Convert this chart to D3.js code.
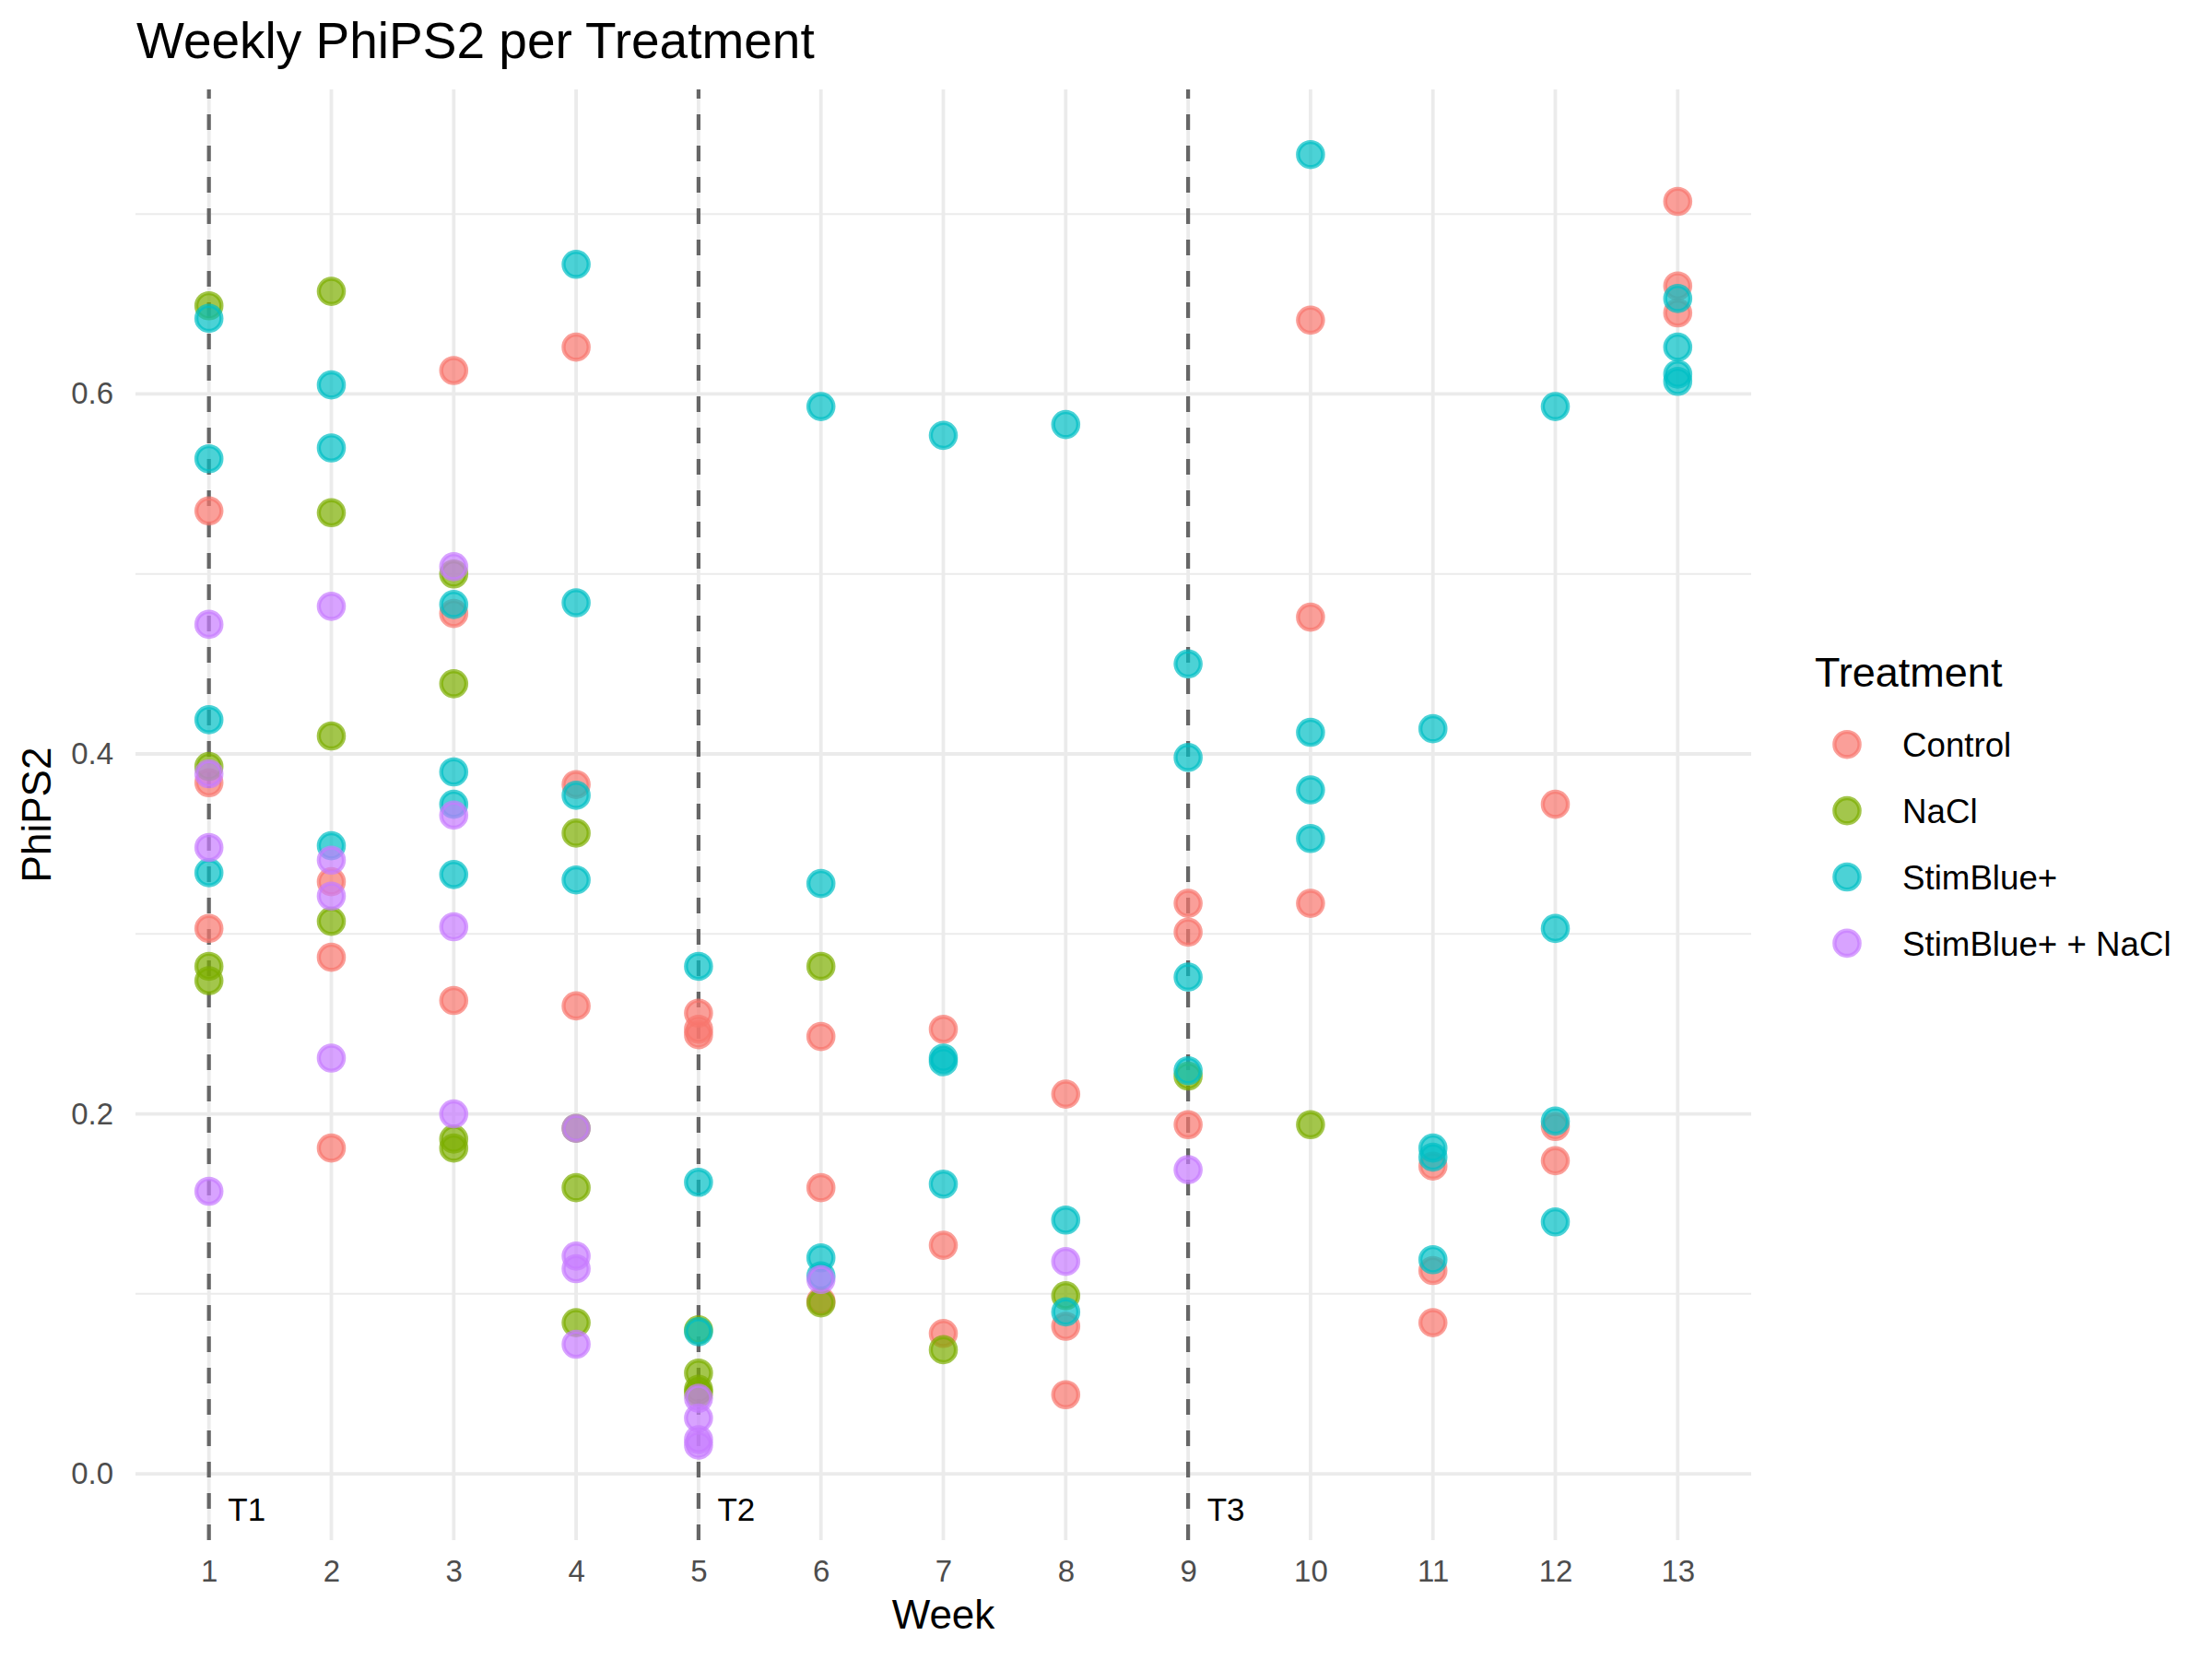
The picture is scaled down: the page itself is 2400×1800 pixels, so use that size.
<!DOCTYPE html>
<html>
<head>
<meta charset="utf-8">
<script src="https://cdn.jsdelivr.net/npm/d3@7"></script>
<style>
body{margin:0;background:#fff}
svg{display:block}
text{font-family:"Liberation Sans",Arial,Helvetica,sans-serif}
</style>
</head>
<body>
<svg id="chart" width="2400" height="1800"></svg>
<script>
// ---- data (Week, PhiPS2) ----
const treatments = ["Control", "NaCl", "StimBlue+", "StimBlue+ + NaCl"];
const colors = ["#F8766D", "#7CAE00", "#00BFC4", "#C77CFF"];

const control = [
  [1,0.535],[1,0.384],[1,0.303],
  [2,0.329],[2,0.287],[2,0.181],
  [3,0.613],[3,0.478],[3,0.263],
  [4,0.626],[4,0.383],[4,0.260],
  [5,0.256],[5,0.247],[5,0.244],
  [6,0.243],[6,0.159],[6,0.096],
  [7,0.247],[7,0.127],[7,0.078],
  [8,0.211],[8,0.082],[8,0.044],
  [9,0.317],[9,0.301],[9,0.194],
  [10,0.641],[10,0.476],[10,0.317],
  [11,0.171],[11,0.113],[11,0.084],
  [12,0.372],[12,0.193],[12,0.174],
  [13,0.707],[13,0.660],[13,0.645]
];
const nacl = [
  [1,0.649],[1,0.393],[1,0.282],[1,0.274],
  [2,0.657],[2,0.534],[2,0.410],[2,0.307],
  [3,0.500],[3,0.439],[3,0.186],[3,0.181],
  [4,0.356],[4,0.192],[4,0.159],[4,0.084],
  [5,0.080],[5,0.056],[5,0.047],[5,0.045],
  [6,0.282],[6,0.095],
  [7,0.069],
  [8,0.099],
  [9,0.221],
  [10,0.194]
];
const stimBlue = [
  [1,0.642],[1,0.564],[1,0.419],[1,0.334],
  [2,0.605],[2,0.570],[2,0.349],
  [3,0.483],[3,0.390],[3,0.372],[3,0.333],
  [4,0.672],[4,0.484],[4,0.377],[4,0.330],
  [5,0.282],[5,0.162],[5,0.079],
  [6,0.593],[6,0.328],[6,0.120],[6,0.110],
  [7,0.577],[7,0.231],[7,0.229],[7,0.161],
  [8,0.583],[8,0.141],[8,0.090],
  [9,0.450],[9,0.398],[9,0.276],[9,0.224],
  [10,0.733],[10,0.412],[10,0.380],[10,0.353],
  [11,0.414],[11,0.181],[11,0.176],[11,0.119],
  [12,0.593],[12,0.303],[12,0.196],[12,0.140],
  [13,0.653],[13,0.626],[13,0.611],[13,0.607]
];
const stimBlueNacl = [
  [1,0.472],[1,0.389],[1,0.348],[1,0.157],
  [2,0.482],[2,0.341],[2,0.321],[2,0.231],
  [3,0.504],[3,0.366],[3,0.304],[3,0.200],
  [4,0.192],[4,0.121],[4,0.114],[4,0.072],
  [5,0.042],[5,0.031],[5,0.019],[5,0.016],
  [6,0.108],
  [8,0.118],
  [9,0.169]
];
const seriesData = [control, nacl, stimBlue, stimBlueNacl];

const weekTicks = [1,2,3,4,5,6,7,8,9,10,11,12,13];
const yMajor = [0, 0.2, 0.4, 0.6];
const yMinor = [0.1, 0.3, 0.5, 0.7];
const treatWeeks = [1, 5, 9];
const treatLabels = ["T1", "T2", "T3"];

// ---- layout ----
const panel = {left:147, right:1900, top:97, bottom:1671};
const x = d3.scaleLinear().domain([0.4, 13.6]).range([panel.left, panel.right]);
const y = d3.scaleLinear().domain([-0.0368, 0.7692]).range([panel.bottom, panel.top]);

const svg = d3.select("#chart");
svg.append("rect").attr("width",2400).attr("height",1800).attr("fill","#fff");

// grid
const grid = svg.append("g");
grid.selectAll("line.ymin").data(yMinor).join("line")
  .attr("x1", panel.left).attr("x2", panel.right)
  .attr("y1", d=>y(d)).attr("y2", d=>y(d))
  .attr("stroke","#EBEBEB").attr("stroke-width",2);
grid.selectAll("line.ymaj").data(yMajor).join("line")
  .attr("x1", panel.left).attr("x2", panel.right)
  .attr("y1", d=>y(d)).attr("y2", d=>y(d))
  .attr("stroke","#EBEBEB").attr("stroke-width",3.8);
grid.selectAll("line.xmaj").data(weekTicks).join("line")
  .attr("x1", d=>x(d)).attr("x2", d=>x(d))
  .attr("y1", panel.top).attr("y2", panel.bottom)
  .attr("stroke","#EBEBEB").attr("stroke-width",3.8);

// treatment vlines (drawn bottom -> top so dashes start at bottom)
svg.append("g").selectAll("line").data(treatWeeks).join("line")
  .attr("x1", d=>x(d)).attr("x2", d=>x(d))
  .attr("y1", panel.bottom).attr("y2", panel.top)
  .attr("stroke","#666666").attr("stroke-width",4.2)
  .attr("stroke-dasharray","17,17");

// points
const pts = svg.append("g");
seriesData.forEach((arr, i) => {
  pts.append("g").selectAll("circle").data(arr).join("circle")
    .attr("cx", d=>x(d[0])).attr("cy", d=>y(d[1]))
    .attr("r", 13.6)
    .attr("fill", colors[i]).attr("fill-opacity", 0.7)
    .attr("stroke", colors[i]).attr("stroke-opacity", 0.7)
    .attr("stroke-width", 4.4);
});

// treatment labels
svg.append("g").selectAll("text").data(treatWeeks).join("text")
  .attr("x", d=>x(d + 0.155)).attr("y", y(-0.02))
  .attr("dy","0.35em")
  .attr("font-size", 35).attr("fill","#000")
  .text((d,i)=>treatLabels[i]);

// axes
const yAxis = d3.axisLeft(y).tickValues(yMajor).tickSize(0).tickPadding(24)
  .tickFormat(d3.format(".1f"));
const gy = svg.append("g").attr("transform",`translate(${panel.left},0)`).call(yAxis);
gy.select(".domain").remove();
gy.selectAll("text").attr("font-size",33).attr("fill","#4D4D4D")
  .attr("font-family",'"Liberation Sans",Arial,sans-serif');

const xAxis = d3.axisBottom(x).tickValues(weekTicks).tickSize(0).tickPadding(22)
  .tickFormat(d3.format("d"));
const gx = svg.append("g").attr("transform",`translate(0,${panel.bottom})`).call(xAxis);
gx.select(".domain").remove();
gx.selectAll("text").attr("font-size",33).attr("fill","#4D4D4D")
  .attr("font-family",'"Liberation Sans",Arial,sans-serif');

// titles
svg.append("text").attr("x",148).attr("y",63)
  .attr("font-size",55).attr("fill","#000").text("Weekly PhiPS2 per Treatment");
svg.append("text").attr("x",(panel.left+panel.right)/2).attr("y",1767)
  .attr("text-anchor","middle").attr("font-size",44).attr("fill","#000").text("Week");
svg.append("text")
  .attr("transform",`translate(55,${(panel.top+panel.bottom)/2}) rotate(-90)`)
  .attr("text-anchor","middle").attr("font-size",44).attr("fill","#000").text("PhiPS2");

// legend
const lg = svg.append("g");
lg.append("text").attr("x",1969).attr("y",745).attr("font-size",45).attr("fill","#000").text("Treatment");
const items = lg.selectAll("g.item").data(treatments).join("g")
  .attr("transform",(d,i)=>`translate(0,${807.7 + i*71.9})`);
items.append("circle").attr("cx",2004).attr("cy",0).attr("r",13.6)
  .attr("fill",(d,i)=>colors[i]).attr("fill-opacity",0.7)
  .attr("stroke",(d,i)=>colors[i]).attr("stroke-opacity",0.7).attr("stroke-width",4.4);
items.append("text").attr("x",2064).attr("y",0).attr("dy","0.36em")
  .attr("font-size",36.7).attr("fill","#000").text(d=>d);
</script>
</body>
</html>
